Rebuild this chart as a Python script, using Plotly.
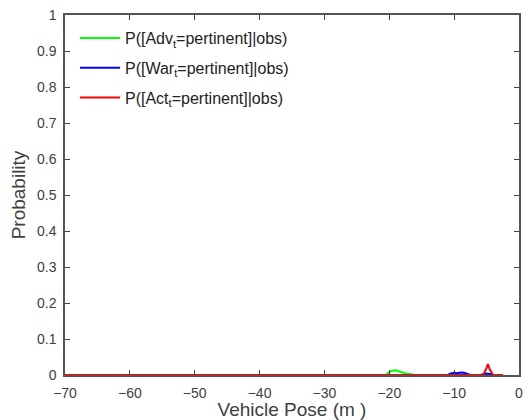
import plotly.graph_objects as go

x_ticks = [-70, -60, -50, -40, -30, -20, -10, 0]
y_ticks = [0, 0.1, 0.2, 0.3, 0.4, 0.5, 0.6, 0.7, 0.8, 0.9, 1]
y_tick_labels = ["0", "0.1", "0.2", "0.3", "0.4", "0.5", "0.6", "0.7", "0.8", "0.9", "1"]

adv_x = [-70, -20.5, -20, -19.5, -19, -18.5, -18, -17.5, -17, -16.5, -16, -2.5]
adv_y = [0, 0, 0.008, 0.012, 0.013, 0.01, 0.006, 0.004, 0.003, 0.002, 0, 0]

war_x = [-70, -11, -10.5, -10, -9.5, -9, -8.5, -8, -7.5, -6, -5.5, -5, -4.5, -4, -2.5]
war_y = [0, 0, 0.004, 0.006, 0.005, 0.007, 0.006, 0.003, 0, 0, 0.003, 0.004, 0.003, 0, 0]

act_x = [-70, -5.5, -5, -4.8, -4.5, -4, -2.5]
act_y = [0, 0, 0.02, 0.03, 0.015, 0, 0]

names = ["P([Adv<sub>t</sub>=pertinent]|obs)",
         "P([War<sub>t</sub>=pertinent]|obs)",
         "P([Act<sub>t</sub>=pertinent]|obs)"]

fig = go.Figure()
for i, (xs, ys, nm, col) in enumerate([(adv_x, adv_y, names[0], "#00ff00"),
                                       (war_x, war_y, names[1], "#0000ff"),
                                       (act_x, act_y, names[2], "#ff0000")]):
    fig.add_trace(go.Scatter(x=xs, y=ys, mode="lines", name=nm, legendgroup="g%d" % i,
                             line=dict(color=col, width=2)))

FONT = "Liberation Sans, Arial"
axis_common = dict(showline=True, linecolor="#555555", linewidth=1.5, mirror="ticks",
                   ticks="inside", ticklen=5, tickcolor="#444444", showgrid=False,
                   zeroline=False, ticklabelstandoff=4,
                   tickfont=dict(family=FONT, size=14, color="#404040"))

fig.update_layout(
    width=529, height=420,
    margin=dict(l=65, r=6, t=15, b=45),
    paper_bgcolor="white", plot_bgcolor="white",
    xaxis=dict(range=[-70, 0], tickvals=x_ticks, **axis_common,
               title=dict(text="Vehicle Pose (m )", font=dict(family=FONT, size=19, color="#404040"), standoff=0)),
    yaxis=dict(range=[0, 1], tickvals=y_ticks, ticktext=y_tick_labels, **axis_common,
               title=dict(text="Probability", font=dict(family=FONT, size=19, color="#404040"), standoff=6)),
    legend=dict(x=0.022, y=0.983, xanchor="left", yanchor="top", bgcolor="rgba(0,0,0,0)",
                font=dict(family=FONT, size=16, color="#222222"),
                itemwidth=40, tracegroupgap=6),
    showlegend=True,
)

fig.write_html("out.html", config={"displayModeBar": False},
               post_script="document.body.style.margin='0';document.body.style.overflow='hidden';")
